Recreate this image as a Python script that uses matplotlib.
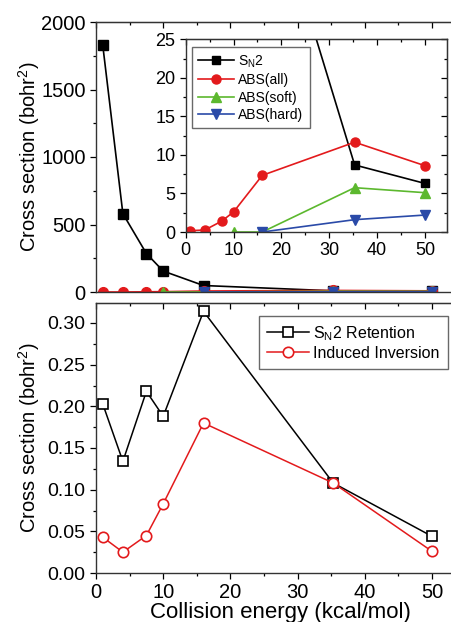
import numpy as np
import matplotlib.pyplot as plt
from matplotlib.ticker import MultipleLocator

plt.rcParams['font.family'] = ['Liberation Sans', 'DejaVu Sans']
plt.rcParams['mathtext.fontset'] = 'custom'
plt.rcParams['mathtext.rm'] = 'Liberation Sans'
plt.rcParams['mathtext.it'] = 'Liberation Sans'

# energies (kcal/mol)
energy = [1, 4, 7.5, 10, 16, 35.3, 50]
sn2 = [1830, 580, 285, 155, 48, 8.7, 6.3]
abs_all = [0.17, 0.26, 1.4, 2.6, 7.35, 11.65, 8.6]
energy_soft = [10, 16, 35.3, 50]
abs_soft = [0.0, 0.0, 5.75, 5.1]
energy_hard = [16, 35.3, 50]
abs_hard = [0.0, 1.6, 2.2]

retention = [0.203, 0.134, 0.218, 0.188, 0.314, 0.108, 0.044]
inversion = [0.043, 0.025, 0.045, 0.083, 0.180, 0.108, 0.026]

RED = '#e31a1c'
GREEN = '#5cb82e'
BLUE = '#2a4aa8'

fig = plt.figure(figsize=(4.52, 6.22), dpi=100)
W, H = 452, 622
xmax = 55
left_px = 96
pxu = 6.72


def box(l, t, r, b):
    return [l / W, 1 - b / H, (r - l) / W, (b - t) / H]


def style(ax, fs, labels_bottom=True, xmaj=10, xmin=5):
    ax.tick_params(which='both', direction='out', top=False, right=False,
                   labelsize=fs, labelbottom=labels_bottom)
    ax.tick_params(which='major', length=4, width=0.9)
    ax.tick_params(which='minor', length=2.5, width=0.9)
    for s in ax.spines.values():
        s.set_linewidth(1.0)
        s.set_color('#333333')
    top = ax.secondary_xaxis('top')
    top.tick_params(which='both', direction='in', labeltop=False)
    top.tick_params(which='major', length=4, width=0.9)
    top.tick_params(which='minor', length=2.5, width=0.9)
    top.xaxis.set_major_locator(MultipleLocator(xmaj))
    top.xaxis.set_minor_locator(MultipleLocator(xmin))
    return top


right_px = left_px + xmax * pxu

# top main panel
ax1 = fig.add_axes(box(left_px, 22, right_px, 292))
ax1.plot(energy, sn2, '-s', color='black', ms=7, lw=1.2)
ax1.plot(energy, abs_all, '-o', color=RED, ms=7, lw=1.2)
ax1.plot(energy_soft, abs_soft, '-^', color=GREEN, ms=7, lw=1.2)
ax1.plot(energy_hard, abs_hard, '-v', color=BLUE, ms=7, lw=1.2)
ax1.set_xlim(0, xmax)
ax1.set_ylim(0, 2000)
ax1.xaxis.set_major_locator(MultipleLocator(10))
ax1.xaxis.set_minor_locator(MultipleLocator(5))
ax1.yaxis.set_major_locator(MultipleLocator(500))
ax1.yaxis.set_minor_locator(MultipleLocator(250))
style(ax1, 14.5, labels_bottom=False)
ax1.tick_params(axis='x', which='both', length=0)
ax1.set_ylabel(r'Cross section (bohr$^2$)', fontsize=14.5)

# inset
ax2 = fig.add_axes(box(185.7, 39.3, 447, 232))
ax2.plot(energy, sn2, '-s', color='black', ms=6, lw=1.2, label=r'S$_\mathrm{N}$2')
ax2.plot(energy, abs_all, '-o', color=RED, ms=6.5, lw=1.2, label='ABS(all)')
ax2.plot(energy_soft, abs_soft, '-^', color=GREEN, ms=6.5, lw=1.2, label='ABS(soft)')
ax2.plot(energy_hard, abs_hard, '-v', color=BLUE, ms=6.5, lw=1.2, label='ABS(hard)')
ax2.set_xlim(0, 54.6)
ax2.set_ylim(0, 25)
ax2.xaxis.set_major_locator(MultipleLocator(10))
ax2.xaxis.set_minor_locator(MultipleLocator(5))
ax2.yaxis.set_major_locator(MultipleLocator(5))
ax2.yaxis.set_minor_locator(MultipleLocator(2.5))
style(ax2, 13)
rgt = ax2.secondary_yaxis('right')
rgt.tick_params(which='both', direction='in', labelright=False)
rgt.tick_params(which='major', length=4, width=0.9)
rgt.tick_params(which='minor', length=2.5, width=0.9)
rgt.yaxis.set_major_locator(MultipleLocator(5))
rgt.yaxis.set_minor_locator(MultipleLocator(2.5))
leg = ax2.legend(loc='upper left', bbox_to_anchor=(0.023, 0.96), fontsize=10,
                 frameon=True, fancybox=False, handlelength=2.6,
                 borderpad=0.45, labelspacing=0.25, handletextpad=0.3,
                 borderaxespad=0)
leg.get_frame().set_edgecolor('#444444')
leg.get_frame().set_linewidth(1.0)

# bottom panel
ax3 = fig.add_axes(box(left_px, 303, right_px, 573))
ax3.plot(energy, retention, '-s', color='black', mfc='white', ms=7, mew=1.2,
         lw=1.1, label=r'S$_\mathrm{N}$2 Retention')
ax3.plot(energy, inversion, '-o', color=RED, mfc='white', ms=7.5, mew=1.2,
         lw=1.1, label='Induced Inversion')
ax3.set_xlim(0, xmax)
ax3.set_ylim(0, 0.324)
ax3.xaxis.set_major_locator(MultipleLocator(10))
ax3.xaxis.set_minor_locator(MultipleLocator(5))
ax3.yaxis.set_major_locator(MultipleLocator(0.05))
ax3.yaxis.set_minor_locator(MultipleLocator(0.025))
ax3.yaxis.set_major_formatter(plt.FormatStrFormatter('%.2f'))
style(ax3, 14)
ax3.tick_params(axis='x', labelsize=14.5)
ax3.set_xlabel('Collision energy (kcal/mol)', fontsize=16, labelpad=0)
ax3.set_ylabel(r'Cross section (bohr$^2$)', fontsize=14.5)
ax3.yaxis.set_label_coords(-0.145, 0.5)
ax1.yaxis.set_label_coords(-0.145, 0.5)
lx = (259 - left_px) / (right_px - left_px)
ly = (573 - 316) / 270
leg3 = ax3.legend(loc='upper left', bbox_to_anchor=(lx, ly), fontsize=11.5,
                  frameon=True, fancybox=False, handlelength=2.6,
                  borderpad=0.5, labelspacing=0.2, handletextpad=0.3,
                  borderaxespad=0)
leg3.get_frame().set_edgecolor('#444444')
leg3.get_frame().set_linewidth(1.0)

fig.savefig('out.png', dpi=100)
